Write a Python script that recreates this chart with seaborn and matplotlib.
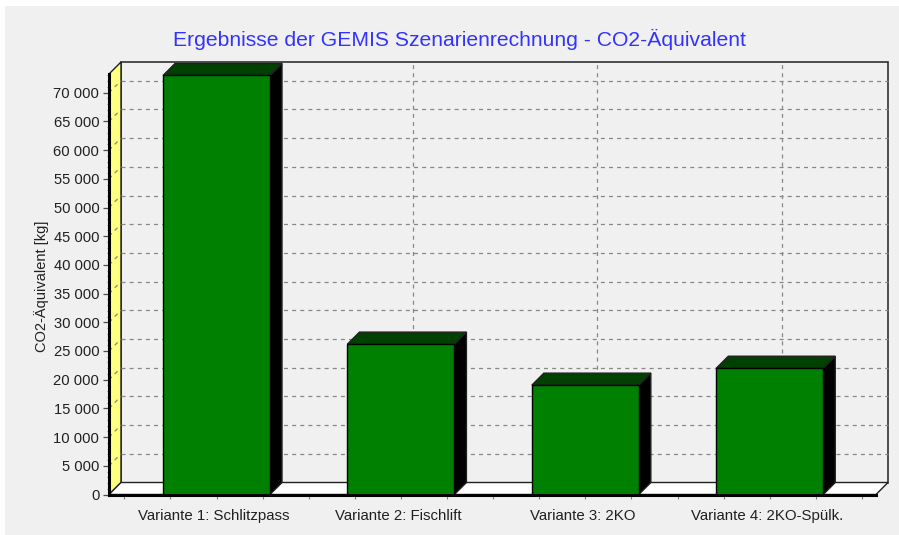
import matplotlib
matplotlib.use("Agg")
import matplotlib.pyplot as plt
from matplotlib.patches import Polygon, Rectangle
from matplotlib.ticker import FixedLocator, MultipleLocator, FuncFormatter
from matplotlib.transforms import ScaledTranslation
import numpy as np
import pandas as pd
import seaborn as sns

categories = ["Variante 1: Schlitzpass", "Variante 2: Fischlift", "Variante 3: 2KO", "Variante 4: 2KO-Spülk."]
values = [73000, 26200, 19050, 22000]
title = "Ergebnisse der GEMIS Szenarienrechnung - CO2-Äquivalent"
ylabel = "CO2-Äquivalent [kg]"

W, H = 899, 535
BG = "#F0F0F0"
sns.set_theme(style="white", font="Liberation Sans")
plt.rcParams["font.family"] = ["Liberation Sans", "DejaVu Sans"]

fig = plt.figure(figsize=(W / 100, H / 100), dpi=100, facecolor="white")
fig.add_artist(Rectangle((5 / W, 0), 1 - 5 / W, 1 - 6 / H, transform=fig.transFigure, fc=BG, ec="none", zorder=-5))

left, right, bottom, top = 109, 876, 494.5, 74
ax = fig.add_axes([left / W, 1 - bottom / H, (right - left) / W, (bottom - top) / H])
ax.patch.set_alpha(0)

df = pd.DataFrame({"cat": categories, "val": values})
sns.barplot(data=df, x="cat", y="val", ax=ax, color="#008000", saturation=1, width=0.58,
            edgecolor="black", linewidth=1, zorder=6)

xl, xr = -0.583, 3.576
yt = (bottom - top) / 28.7 * 5000
ax.set_xlim(xl, xr)
ax.set_ylim(0, yt)
dx = 12 / ((right - left) / (xr - xl))
dy = 12 / ((bottom - top) / yt)

GRID = dict(color="#888888", lw=0.9, ls=(0, (3.2, 3.3)), clip_on=False)
poly = dict(clip_on=False)
# walls
ax.add_patch(Polygon([(xl + dx, dy), (xr + dx, dy), (xr + dx, yt + dy), (xl + dx, yt + dy)], fc=BG, ec="#303030", lw=1.2, zorder=1, **poly))
ax.add_patch(Polygon([(xl, 0), (xl + dx, dy), (xl + dx, yt + dy), (xl, yt)], fc="#FFFF80", ec="#202020", lw=1, zorder=2, **poly))
ax.add_patch(Polygon([(xl, 0), (xr, 0), (xr + dx, dy), (xl + dx, dy)], fc="white", ec="#202020", lw=1, zorder=2, **poly))

yticks = np.arange(0, 70001, 5000)
for v in yticks[1:]:
    ax.plot([xl + dx, xr + dx], [v + dy, v + dy], zorder=3, **GRID)
    ax.plot([xl, xl + dx], [v, v + dy], zorder=3, **GRID)
for i in range(len(categories)):
    ax.plot([i + dx, i + dx], [dy, yt + dy], zorder=3, **GRID)

# 3D faces derived from the bars
for bar in ax.patches[:len(categories)]:
    x0, w, h = bar.get_x(), bar.get_width(), bar.get_height()
    ax.add_patch(Polygon([(x0 + w, 0), (x0 + w + dx, dy), (x0 + w + dx, h + dy), (x0 + w, h)], fc="black", ec="#202020", lw=1, zorder=5, **poly))
    ax.add_patch(Polygon([(x0, h), (x0 + w, h), (x0 + w + dx, h + dy), (x0 + dx, h + dy)], fc="#004000", ec="#202020", lw=1, zorder=5, **poly))

for s in ["top", "right"]:
    ax.spines[s].set_visible(False)
for s in ["left", "bottom"]:
    ax.spines[s].set_color("black")
    ax.spines[s].set_linewidth(2.2)
    ax.spines[s].set_zorder(7)

ax.yaxis.set_major_locator(FixedLocator(yticks))
ax.yaxis.set_minor_locator(MultipleLocator(1000))
ax.yaxis.set_major_formatter(FuncFormatter(lambda v, p: f"{int(v):,}".replace(",", " ")))
ax.set_xticks(range(len(categories)))
ax.set_xticklabels(categories)
ax.xaxis.set_minor_locator(FixedLocator(np.arange(-0.5, 3.51, 0.25)))
ax.tick_params(axis="y", which="major", left=True, length=4.5, width=0.9, color="#505050", labelsize=10.6, labelcolor="#202020", pad=2.5)
ax.tick_params(axis="y", which="minor", left=True, length=1.5, width=0.7, color="#808080")
ax.tick_params(axis="x", which="both", bottom=True, length=3, width=0.8, color="#808080", labelsize=10.8, labelcolor="#202020", pad=7.5)
shift = ScaledTranslation(-2.5 / 100, 0, fig.dpi_scale_trans)
for lab in ax.get_xticklabels():
    lab.set_transform(lab.get_transform() + shift)
ax.set_xlabel("")
ax.set_ylabel("")

fig.text(459.5 / W, 1 - 39.5 / H, title, color="#3333FF", fontsize=15.2, ha="center", va="center")
fig.text(41.5 / W, 1 - 286 / H, ylabel, color="#202020", fontsize=10.5, rotation=90, ha="center", va="center")

fig.savefig("out.png", dpi=100, facecolor="white")
